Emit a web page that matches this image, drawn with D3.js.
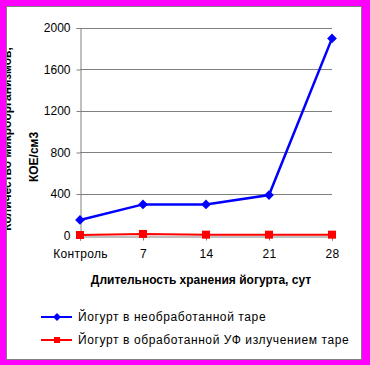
<!DOCTYPE html>
<html>
<head>
<meta charset="utf-8">
<script src="https://cdn.jsdelivr.net/npm/d3@7"></script>
<style>
  body { margin: 0; background: #ff00ff; }
  svg { display: block; font-family: "Liberation Sans", Arial, sans-serif; }
</style>
</head>
<body>
<div id="chart"></div>
<script>
// categories and series
const categories = ["Контроль", "7", "14", "21", "28"];
const untreated = [150, 300, 300, 390, 1900];
const uvTreated = [5, 15, 8, 8, 8];
const yTicks = [0, 400, 800, 1200, 1600, 2000];
const seriesNames = ["Йогурт в необработанной таре", "Йогурт в обработанной УФ излучением таре"];

(function() {
  const W = 370, H = 365;
  const svg = d3.select("#chart").append("svg")
    .attr("width", W).attr("height", H);

  // white chart area with grey frame
  svg.append("rect")
    .attr("x", 6.5).attr("y", 6.5)
    .attr("width", 355).attr("height", 353)
    .attr("fill", "#fff")
    .attr("stroke", "#808080")
    .attr("stroke-width", 1);

  svg.append("clipPath").attr("id", "area")
    .append("rect").attr("x", 7).attr("y", 7).attr("width", 354).attr("height", 352);

  const plot = { left: 80, right: 332, top: 28, bottom: 235.5 };

  const x = d3.scalePoint()
    .domain(categories)
    .range([plot.left, plot.right]);

  const y = d3.scaleLinear()
    .domain([0, 2000])
    .range([plot.bottom, plot.top]);

  // gridlines
  svg.append("g")
    .selectAll("line")
    .data(yTicks.filter(d => d > 0))
    .join("line")
    .attr("x1", plot.left).attr("x2", plot.right)
    .attr("y1", d => Math.round(y(d)) + 0.5).attr("y2", d => Math.round(y(d)) + 0.5)
    .attr("stroke", "#808080");

  // y axis
  const yAxis = svg.append("g")
    .attr("transform", `translate(${plot.left + 0.5},0)`)
    .call(d3.axisLeft(y).tickValues(yTicks).tickSize(4).tickPadding(6).tickFormat(d3.format("d")));
  yAxis.select(".domain").attr("stroke", "#808080");
  yAxis.selectAll(".tick line").attr("stroke", "#808080");
  yAxis.selectAll(".tick text")
    .style("font-size", "12px").attr("fill", "#000")
    .attr("font-family", "Liberation Sans, Arial, sans-serif");

  // x axis
  const xAxis = svg.append("g")
    .attr("transform", `translate(0,${Math.round(plot.bottom) + 0.5})`)
    .call(d3.axisBottom(x).tickSize(4).tickPadding(9));
  xAxis.select(".domain").attr("stroke", "#808080");
  xAxis.selectAll(".tick line").attr("stroke", "#808080");
  xAxis.selectAll(".tick text")
    .style("font-size", "12px").attr("fill", "#000")
    .style("letter-spacing", "0.3px")
    .attr("font-family", "Liberation Sans, Arial, sans-serif");

  // axis titles
  svg.append("text")
    .attr("x", 201).attr("y", 284)
    .attr("text-anchor", "middle")
    .style("font-size", "12px").style("font-weight", "bold")
    .text("Длительность хранения йогурта, сут");

  const yTitle = svg.append("g").attr("clip-path", "url(#area)");
  yTitle.append("text")
    .attr("transform", "translate(11,139) rotate(-90)")
    .attr("text-anchor", "middle")
    .style("font-size", "12px").style("font-weight", "bold")
    .text("Количество микроорганизмов,");
  yTitle.append("text")
    .attr("transform", "translate(38,157) rotate(-90)")
    .attr("text-anchor", "middle")
    .style("font-size", "12px").style("font-weight", "bold")
    .text("КОЕ/см3");

  // series
  const line = d3.line()
    .x((d, i) => x(categories[i]))
    .y(d => y(d));

  svg.append("path")
    .datum(uvTreated)
    .attr("fill", "none")
    .attr("stroke", "#ff0000")
    .attr("stroke-width", 2)
    .attr("d", line);

  svg.append("path")
    .datum(untreated)
    .attr("fill", "none")
    .attr("stroke", "#0000ff")
    .attr("stroke-width", 2.5)
    .attr("d", line);

  const diamond = d3.symbol().type(d3.symbolDiamond2).size(60);
  const square = d3.symbol().type(d3.symbolSquare).size(64);

  svg.append("g").selectAll("path")
    .data(uvTreated)
    .join("path")
    .attr("transform", (d, i) => `translate(${x(categories[i])},${y(d)})`)
    .attr("d", square)
    .attr("fill", "#ff0000");

  svg.append("g").selectAll("path")
    .data(untreated)
    .join("path")
    .attr("transform", (d, i) => `translate(${x(categories[i])},${y(d)})`)
    .attr("d", diamond)
    .attr("fill", "#0000ff");

  // legend
  const legend = svg.append("g");
  const colors = ["#0000ff", "#ff0000"];
  const items = legend.selectAll("g")
    .data(seriesNames)
    .join("g")
    .attr("transform", (d, i) => `translate(41,${317 + i * 23})`);

  items.append("line")
    .attr("x1", 0).attr("x2", 31)
    .attr("stroke", (d, i) => colors[i])
    .attr("stroke-width", 2);
  items.append("path")
    .attr("transform", "translate(16,0)")
    .attr("d", (d, i) => i === 0 ? d3.symbol().type(d3.symbolDiamond2).size(40)() : d3.symbol().type(d3.symbolSquare).size(36)())
    .attr("fill", (d, i) => colors[i]);
  items.append("text")
    .attr("x", 37).attr("dy", "0.35em")
    .style("font-size", "12px")
    .style("letter-spacing", "0.6px")
    .text(d => d);
})();
</script>
</body>
</html>
